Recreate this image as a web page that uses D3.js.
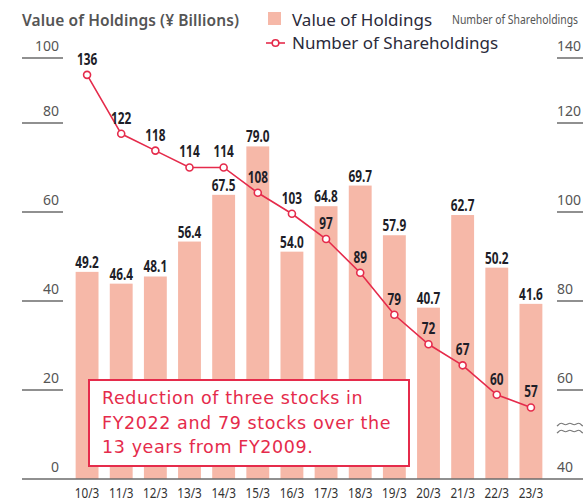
<!DOCTYPE html>
<html>
<head>
<meta charset="utf-8">
<script src="https://cdn.jsdelivr.net/npm/d3@7"></script>
<style>
  body { margin: 0; background: #fff; }
  svg { display: block; font-family: "Noto Sans", "Open Sans", sans-serif; }
</style>
</head>
<body>
<svg id="chart" width="583" height="502"></svg>
<script>
const years = ['10/3', '11/3', '12/3', '13/3', '14/3', '15/3', '16/3', '17/3', '18/3', '19/3', '20/3', '21/3', '22/3', '23/3'];
const holdings = [49.2, 46.4, 48.1, 56.4, 67.5, 79.0, 54.0, 64.8, 69.7, 57.9, 40.7, 62.7, 50.2, 41.6];
const shareholdings = [136, 122, 118, 114, 114, 108, 103, 97, 89, 79, 72, 67, 60, 57];
const leftTicks = [0, 20, 40, 60, 80, 100];
const rightTicks = [40, 60, 80, 100, 120, 140];
const noteLines = ['Reduction of three stocks in', 'FY2022 and 79 stocks over the', '13 years from FY2009.'];

const barColor = '#f6b8a8';
const lineColor = '#e52b4b';
const axisColor = '#6b6b6b';
const labelColor = '#1e1e28';
const squeeze = 0.74; // the original uses a condensed face for numbers

const svg = d3.select('#chart');
const baseY = 479;
const topY = 58;
const tickGap = 89; // ticks in the original are evenly spaced except the top one

const x = d3.scaleBand()
    .domain(years)
    .range([70, 548])
    .paddingInner(0.33)
    .paddingOuter(0.165);

const yLeft = d3.scaleLinear().domain([0, 100]).range([baseY, topY]);
const yRight = d3.scaleLinear().domain([40, 140]).range([baseY, topY]);

// axis tick positions (drawn as in the original)
const tickLeft = d3.scaleLinear().domain([0, 80, 100]).range([baseY, baseY - 4 * tickGap, topY]);
const tickRight = d3.scaleLinear().domain([40, 120, 140]).range([baseY, baseY - 4 * tickGap, topY]);

function condensed(sel, px, py, k) {
    sel.attr('transform', (d, i) => `translate(${px(d, i)},${py(d, i)}) scale(${k},1)`);
}

// bars
svg.append('g')
  .selectAll('rect')
  .data(holdings)
  .join('rect')
    .attr('x', (d, i) => x(years[i]))
    .attr('y', d => yLeft(d))
    .attr('width', x.bandwidth())
    .attr('height', d => baseY - yLeft(d))
    .attr('fill', barColor);

// left axis ticks
const leftG = svg.append('g');
leftG.selectAll('line')
  .data(leftTicks.filter(t => t !== 0))
  .join('line')
    .attr('x1', 22).attr('x2', 63)
    .attr('y1', d => tickLeft(d)).attr('y2', d => tickLeft(d))
    .attr('stroke', axisColor).attr('stroke-width', 1.5);
leftG.selectAll('text')
  .data(leftTicks)
  .join('text')
    .attr('x', 59)
    .attr('y', d => tickLeft(d) - 7)
    .attr('text-anchor', 'end')
    .attr('font-size', 14)
    .attr('fill', '#555')
    .text(d => d);

// right axis ticks
const rightG = svg.append('g');
rightG.selectAll('line')
  .data(rightTicks.filter(t => t !== 40))
  .join('line')
    .attr('x1', 557).attr('x2', 583)
    .attr('y1', d => tickRight(d)).attr('y2', d => tickRight(d))
    .attr('stroke', axisColor).attr('stroke-width', 1.5);
rightG.selectAll('text')
  .data(rightTicks)
  .join('text')
    .attr('x', 557)
    .attr('y', d => tickRight(d) - 7)
    .attr('font-size', 14)
    .attr('fill', '#555')
    .text(d => d);

// axis break squiggles
const wave = d3.line().curve(d3.curveBasis);
[424, 431].forEach(yy => {
    const pts = d3.range(0, 7).map(k => [557 + k * 4.3, yy + (k % 2 ? -2.2 : 2.2)]);
    rightG.append('path')
        .attr('d', wave(pts))
        .attr('fill', 'none')
        .attr('stroke', '#777')
        .attr('stroke-width', 1.2);
});

// baseline
svg.append('line')
    .attr('x1', 22).attr('x2', 583)
    .attr('y1', baseY).attr('y2', baseY)
    .attr('stroke', axisColor).attr('stroke-width', 1.5);

// x labels
svg.append('g')
  .selectAll('text')
  .data(years)
  .join('text')
    .call(condensed, d => x(d) + x.bandwidth() / 2, () => 498, 0.84)
    .attr('text-anchor', 'middle')
    .attr('font-size', 14)
    .attr('fill', '#333')
    .text(d => d);

// bar value labels
svg.append('g')
  .selectAll('text')
  .data(holdings)
  .join('text')
    .call(condensed, (d, i) => x(years[i]) + x.bandwidth() / 2, d => yLeft(d) - 4, squeeze)
    .attr('text-anchor', 'middle')
    .attr('font-size', 16)
    .attr('font-weight', 'bold')
    .attr('fill', labelColor)
    .text(d => d.toFixed(1));

// annotation box
const note = svg.append('g');
note.append('rect')
    .attr('x', 89).attr('y', 380)
    .attr('width', 320).attr('height', 86)
    .attr('fill', '#fff')
    .attr('stroke', lineColor)
    .attr('stroke-width', 2);
note.selectAll('text')
  .data(noteLines)
  .join('text')
    .attr('x', 102)
    .attr('y', (d, i) => 404 + i * 24.5)
    .attr('font-size', 17.5)
    .attr('letter-spacing', 0.6)
    .attr('font-family', '"DejaVu Sans", sans-serif')
    .attr('fill', lineColor)
    .text(d => d);

// shareholdings line
const cx = (d, i) => x(years[i]) + x.bandwidth() / 2;
const line = d3.line()
    .x((d, i) => cx(d, i))
    .y(d => yRight(d));

svg.append('path')
    .datum(shareholdings)
    .attr('d', line)
    .attr('fill', 'none')
    .attr('stroke', lineColor)
    .attr('stroke-width', 1.6);

svg.append('g')
  .selectAll('circle')
  .data(shareholdings)
  .join('circle')
    .attr('cx', cx)
    .attr('cy', d => yRight(d))
    .attr('r', 3.5)
    .attr('fill', '#fff')
    .attr('stroke', lineColor)
    .attr('stroke-width', 1.6);

svg.append('g')
  .selectAll('text')
  .data(shareholdings)
  .join('text')
    .call(condensed, cx, d => yRight(d) - 10, squeeze)
    .attr('text-anchor', 'middle')
    .attr('font-size', 16)
    .attr('font-weight', 'bold')
    .attr('fill', labelColor)
    .text(d => d);

// titles and legend
svg.append('text')
    .attr('x', 22).attr('y', 26)
    .attr('font-size', 15.5)
    .attr('font-weight', 600)
    .attr('letter-spacing', 0.1)
    .attr('fill', '#555')
    .text('Value of Holdings (\u00a5 Billions)');

const legend = svg.append('g');
legend.append('rect')
    .attr('x', 268).attr('y', 12)
    .attr('width', 13).attr('height', 13)
    .attr('fill', barColor);
legend.append('text')
    .attr('x', 292).attr('y', 26)
    .attr('font-size', 17)
    .attr('fill', '#2a2a3a')
    .text('Value of Holdings');
legend.append('line')
    .attr('x1', 266).attr('x2', 285)
    .attr('y1', 43).attr('y2', 43)
    .attr('stroke', lineColor).attr('stroke-width', 1.6);
legend.append('circle')
    .attr('cx', 275.5).attr('cy', 43).attr('r', 3.3)
    .attr('fill', '#fff')
    .attr('stroke', lineColor).attr('stroke-width', 1.6);
legend.append('text')
    .attr('x', 292).attr('y', 49)
    .attr('font-size', 17)
    .attr('fill', '#2a2a3a')
    .text('Number of Shareholdings');
legend.append('text')
    .attr('transform', 'translate(452,24) scale(0.8,1)')
    .attr('font-size', 13)
    .attr('fill', '#555')
    .text('Number of Shareholdings');
</script>
</body>
</html>
